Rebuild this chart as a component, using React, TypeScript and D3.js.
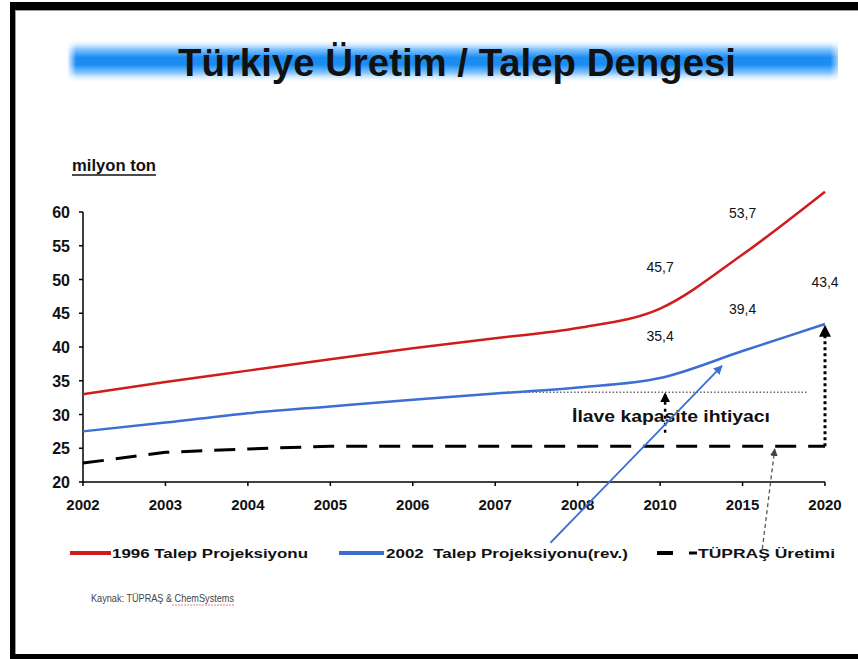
import React from 'react';
import * as d3 from 'd3';

const categories = ['2002', '2003', '2004', '2005', '2006', '2007', '2008', '2010', '2015', '2020'];
const demand1996 = [33.0, 34.8, 36.5, 38.2, 39.8, 41.3, 42.8, 45.7, 53.7, 63.0];
const demand2002 = [27.5, 28.8, 30.2, 31.2, 32.2, 33.1, 34.0, 35.4, 39.4, 43.4];
const tuprasProd = [22.8, 24.4, 24.9, 25.3, 25.3, 25.3, 25.3, 25.3, 25.3, 25.3];
const yTicks = [20, 25, 30, 35, 40, 45, 50, 55, 60];
const valueLabels = [
  { cat: '2010', v: 45.7, text: '45,7' },
  { cat: '2015', v: 53.7, text: '53,7' },
  { cat: '2010', v: 35.4, text: '35,4' },
  { cat: '2015', v: 39.4, text: '39,4' },
  { cat: '2020', v: 43.4, text: '43,4' },
];
const capacityLevel = 33.3;
const legendItems = ['1996 Talep Projeksiyonu', '2002  Talep Projeksiyonu(rev.)', 'TÜPRAŞ Üretimi'];

const W = 858;
const H = 659;
const FONT = "'Liberation Sans', Arial, sans-serif";

export default function App() {
  const x = d3.scalePoint<string>().domain(categories).range([83, 825]);
  const xi = d3.scaleLinear().domain([0, categories.length - 1]).range([83, 825]);
  const y = d3.scaleLinear().domain([20, 60]).range([482, 212]);

  const line = d3
    .line<number>()
    .x((_, i) => x(categories[i]) as number)
    .y((d) => y(d))
    .curve(d3.curveMonotoneX);
  const straight = d3
    .line<number>()
    .x((_, i) => x(categories[i]) as number)
    .y((d) => y(d));

  const x2010 = x('2010') as number;
  const x2020 = x('2020') as number;

  const bA = { x1: xi(5.67), y1: y(11.0), x2: xi(7.75), y2: y(37.2) };
  const gA = { x1: xi(8.24), y1: y(10.1), x2: xi(8.39), y2: y(24.9) };

  return (
    <svg
      width={W}
      height={H}
      style={{ position: 'absolute', left: 0, top: 0, background: '#fff' }}
      fontFamily={FONT}
    >
      <defs>
        <linearGradient id="band" x1="0" y1="0" x2="0" y2="1">
          <stop offset="0" stopColor="#ffffff" stopOpacity="0" />
          <stop offset="0.22" stopColor="#8cc8ff" />
          <stop offset="0.42" stopColor="#1a8cf2" />
          <stop offset="0.58" stopColor="#1a8cf2" />
          <stop offset="0.78" stopColor="#8cc8ff" />
          <stop offset="1" stopColor="#ffffff" stopOpacity="0" />
        </linearGradient>
        <linearGradient id="bandH" x1="0" y1="0" x2="1" y2="0">
          <stop offset="0" stopColor="#fff" stopOpacity="1" />
          <stop offset="0.012" stopColor="#fff" stopOpacity="0" />
          <stop offset="0.99" stopColor="#fff" stopOpacity="0" />
          <stop offset="1" stopColor="#fff" stopOpacity="0.6" />
        </linearGradient>
        <marker id="ahBlack" viewBox="0 0 10 10" refX="9" refY="5" markerWidth="4" markerHeight="4" orient="auto">
          <path d="M0,0 L10,5 L0,10 z" fill="#000" />
        </marker>
        <marker id="ahBlue" viewBox="0 0 10 10" refX="9" refY="5" markerWidth="5" markerHeight="5" orient="auto">
          <path d="M0,0 L10,5 L0,10 z" fill="#3b6fd4" />
        </marker>
        <marker id="ahGray" viewBox="0 0 10 10" refX="9" refY="5" markerWidth="6" markerHeight="6" orient="auto">
          <path d="M0,0 L10,5 L0,10 z" fill="#444" />
        </marker>
      </defs>

      {/* frame */}
      <rect x={0} y={0} width={W} height={H} fill="#fff" />
      <rect x={10} y={2} width={W - 10} height={8} fill="#000" />
      <rect x={10} y={2} width={5} height={657} fill="#000" />
      <rect x={10} y={654} width={W - 10} height={5} fill="#000" />
      <line x1={15} y1={10.5} x2={W} y2={10.5} stroke="#999" strokeWidth={1} />
      <line x1={15.5} y1={10} x2={15.5} y2={654} stroke="#999" strokeWidth={1} />

      {/* title band */}
      <rect x={67} y={39} width={771} height={44} fill="url(#band)" />
      <rect x={67} y={39} width={771} height={44} fill="url(#bandH)" />
      <text
        x={457}
        y={76}
        textAnchor="middle"
        fontSize={39}
        fontWeight="bold"
        fill="#111"
        textLength={558}
        lengthAdjust="spacingAndGlyphs"
        fontFamily="'Liberation Sans Narrow', 'Liberation Sans', Arial, sans-serif"
      >
        Türkiye Üretim / Talep Dengesi
      </text>

      {/* unit label */}
      <text x={72} y={171} fontSize={17} fontWeight="bold" fill="#111" textLength={84} lengthAdjust="spacingAndGlyphs">
        milyon ton
      </text>
      <line x1={72} y1={175} x2={156} y2={175} stroke="#111" strokeWidth={1.5} />

      {/* y axis */}
      <line x1={83} y1={y(60)} x2={83} y2={y(20)} stroke="#000" strokeWidth={1.5} />
      {yTicks.map((t) => (
        <g key={t}>
          <line x1={79} y1={y(t)} x2={83} y2={y(t)} stroke="#000" strokeWidth={1.5} />
          <text x={70} y={y(t) + 6} textAnchor="end" fontSize={16} fontWeight="bold" fill="#111">
            {t}
          </text>
        </g>
      ))}

      {/* x axis */}
      <line x1={83} y1={y(20)} x2={x2020} y2={y(20)} stroke="#000" strokeWidth={1.5} />
      {categories.map((c) => (
        <g key={c}>
          <line x1={x(c)} y1={y(20)} x2={x(c)} y2={y(20) + 4} stroke="#000" strokeWidth={1.5} />
          <text x={x(c)} y={y(20) + 28} textAnchor="middle" fontSize={15} fontWeight="bold" fill="#111">
            {c}
          </text>
        </g>
      ))}

      {/* capacity dotted line */}
      <line
        x1={xi(5.15)}
        y1={y(capacityLevel)}
        x2={xi(8.78)}
        y2={y(capacityLevel)}
        stroke="#666"
        strokeWidth={1.5}
        strokeDasharray="1.5,2"
      />

      {/* series */}
      <path d={straight(tuprasProd) || ''} fill="none" stroke="#000" strokeWidth={3} strokeDasharray="21,12" />
      <path d={line(demand2002) || ''} fill="none" stroke="#3b6fd4" strokeWidth={2.5} />
      <path d={line(demand1996) || ''} fill="none" stroke="#d01c1c" strokeWidth={2.5} />

      {/* value labels */}
      {valueLabels.map((l, i) => (
        <text key={i} x={x(l.cat)} y={y(l.v) - 37} textAnchor="middle" fontSize={14} fill="#111">
          {l.text}
        </text>
      ))}

      {/* vertical dotted arrow at 2020 */}
      <line
        x1={x2020}
        y1={y(tuprasProd[9])}
        x2={x2020}
        y2={y(demand2002[9]) + 2}
        stroke="#000"
        strokeWidth={3}
        strokeDasharray="3,3"
        markerEnd="url(#ahBlack)"
      />
      {/* small arrow at 2010 */}
      <line
        x1={x2010 + 5}
        y1={y(27.3)}
        x2={x2010 + 5}
        y2={y(capacityLevel) + 1}
        stroke="#000"
        strokeWidth={2.5}
        strokeDasharray="3,4"
        markerEnd="url(#ahBlack)"
      />

      <text
        x={671}
        y={422}
        textAnchor="middle"
        fontSize={17}
        fontWeight="bold"
        fill="#111"
        textLength={198}
        lengthAdjust="spacingAndGlyphs"
      >
        İlave kapasite ihtiyacı
      </text>

      {/* pointer arrows */}
      <line x1={bA.x1} y1={bA.y1} x2={bA.x2} y2={bA.y2} stroke="#3b6fd4" strokeWidth={1.8} markerEnd="url(#ahBlue)" />
      <line
        x1={gA.x1}
        y1={gA.y1}
        x2={gA.x2}
        y2={gA.y2}
        stroke="#555"
        strokeWidth={1.3}
        strokeDasharray="4,3"
        markerEnd="url(#ahGray)"
      />

      {/* legend */}
      <line x1={70} y1={553} x2={111} y2={553} stroke="#d01c1c" strokeWidth={4} />
      <text x={112} y={558} fontSize={13} fontWeight="bold" fill="#111" textLength={196} lengthAdjust="spacingAndGlyphs">
        {legendItems[0]}
      </text>
      <line x1={339} y1={553} x2={384} y2={553} stroke="#3b6fd4" strokeWidth={4} />
      <text x={386} y={558} fontSize={13} fontWeight="bold" fill="#111" textLength={242} lengthAdjust="spacingAndGlyphs" xmlSpace="preserve">
        {legendItems[1]}
      </text>
      <line x1={657} y1={553} x2={673} y2={553} stroke="#000" strokeWidth={4} />
      <line x1={689} y1={553} x2={697} y2={553} stroke="#000" strokeWidth={3} />
      <text x={698} y={558} fontSize={13} fontWeight="bold" fill="#111" textLength={137} lengthAdjust="spacingAndGlyphs">
        {legendItems[2]}
      </text>

      {/* source */}
      <text x={91} y={602} fontSize={11} fill="#444" textLength={143} lengthAdjust="spacingAndGlyphs">
        Kaynak: TÜPRAŞ & ChemSystems
      </text>
      <line x1={172} y1={605} x2={234} y2={605} stroke="#d66" strokeWidth={0.8} strokeDasharray="2,1" />
    </svg>
  );
}
